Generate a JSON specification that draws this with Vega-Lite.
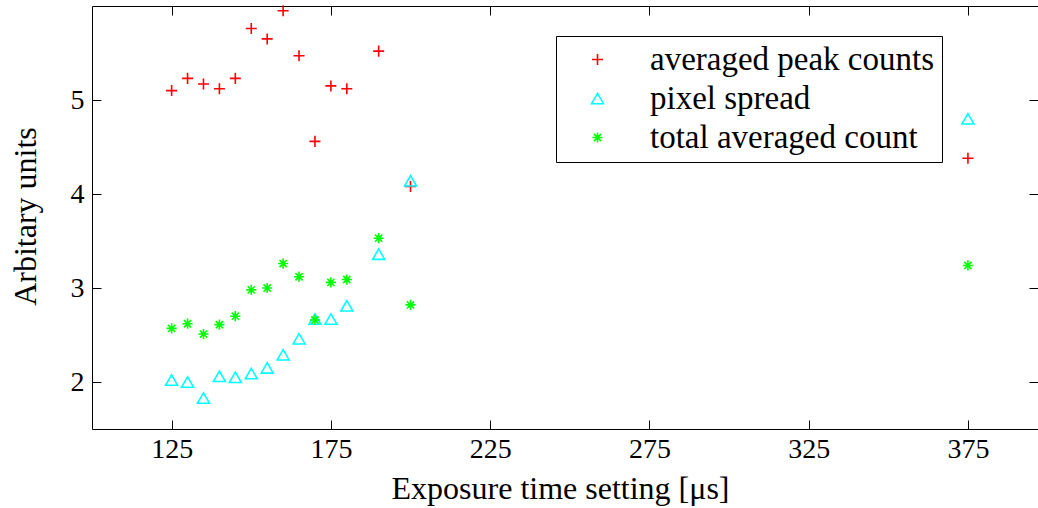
{
  "$schema": "https://vega.github.io/schema/vega-lite/v6.json",
  "autosize": {"type": "none"},
  "padding": {"left": 92, "top": 6, "right": 0, "bottom": 79},
  "width": 946,
  "height": 423,
  "background": "white",
  "config": {
    "view": {"stroke": null},
    "font": "Liberation Serif",
    "axis": {"labelFont": "Liberation Serif", "titleFont": "Liberation Serif", "labelColor": "black", "titleColor": "black", "domainColor": "black", "tickColor": "black", "grid": false, "titleFontWeight": "normal"}
  },
  "data": {"values": [
    {"t":125,"series":"averaged peak counts","v":5.10},
    {"t":130,"series":"averaged peak counts","v":5.23},
    {"t":135,"series":"averaged peak counts","v":5.17},
    {"t":140,"series":"averaged peak counts","v":5.12},
    {"t":145,"series":"averaged peak counts","v":5.23},
    {"t":150,"series":"averaged peak counts","v":5.76},
    {"t":155,"series":"averaged peak counts","v":5.65},
    {"t":160,"series":"averaged peak counts","v":5.95},
    {"t":165,"series":"averaged peak counts","v":5.47},
    {"t":170,"series":"averaged peak counts","v":4.56},
    {"t":175,"series":"averaged peak counts","v":5.15},
    {"t":180,"series":"averaged peak counts","v":5.12},
    {"t":190,"series":"averaged peak counts","v":5.52},
    {"t":200,"series":"averaged peak counts","v":4.08},
    {"t":375,"series":"averaged peak counts","v":4.38},
    {"t":125,"series":"pixel spread","v":2.02},
    {"t":130,"series":"pixel spread","v":2.00},
    {"t":135,"series":"pixel spread","v":1.83},
    {"t":140,"series":"pixel spread","v":2.06},
    {"t":145,"series":"pixel spread","v":2.05},
    {"t":150,"series":"pixel spread","v":2.09},
    {"t":155,"series":"pixel spread","v":2.15},
    {"t":160,"series":"pixel spread","v":2.29},
    {"t":165,"series":"pixel spread","v":2.46},
    {"t":170,"series":"pixel spread","v":2.67},
    {"t":175,"series":"pixel spread","v":2.67},
    {"t":180,"series":"pixel spread","v":2.81},
    {"t":190,"series":"pixel spread","v":3.36},
    {"t":200,"series":"pixel spread","v":4.14},
    {"t":375,"series":"pixel spread","v":4.80},
    {"t":125,"series":"total averaged count","v":2.57},
    {"t":130,"series":"total averaged count","v":2.62},
    {"t":135,"series":"total averaged count","v":2.51},
    {"t":140,"series":"total averaged count","v":2.61},
    {"t":145,"series":"total averaged count","v":2.70},
    {"t":150,"series":"total averaged count","v":2.98},
    {"t":155,"series":"total averaged count","v":3.00},
    {"t":160,"series":"total averaged count","v":3.26},
    {"t":165,"series":"total averaged count","v":3.12},
    {"t":170,"series":"total averaged count","v":2.66},
    {"t":175,"series":"total averaged count","v":3.06},
    {"t":180,"series":"total averaged count","v":3.09},
    {"t":190,"series":"total averaged count","v":3.53},
    {"t":200,"series":"total averaged count","v":2.82},
    {"t":375,"series":"total averaged count","v":3.24}
  ]},
  "layer": [
    {
      "mark": {"type": "point", "filled": false, "strokeWidth": 1.6, "size": 144, "opacity": 1},
      "encoding": {
        "x": {"field": "t", "type": "quantitative", "scale": {"domain": [100, 397], "nice": false, "zero": false},
              "axis": {"orient": "bottom", "values": [125,175,225,275,325,375], "tickSize": -9, "labelPadding": 37, "labelBaseline": "alphabetic", "labelFontSize": 28, "labelFlush": false, "title": "Exposure time setting [μs]", "titleFontSize": 32, "titleX": 468, "titleY": 69, "titleBaseline": "alphabetic", "titleAnchor": null, "titleAlign": "center"}},
        "y": {"field": "v", "type": "quantitative", "scale": {"domain": [1.5, 6], "nice": false, "zero": false},
              "axis": {"orient": "left", "values": [2,3,4,5], "tickSize": -9, "labelPadding": 17, "labelFontSize": 28, "labelFlush": false, "title": "Arbitary units", "titleFontSize": 32, "titleX": -67, "titleY": 210, "titleAngle": -90, "titleBaseline": "middle", "titleAlign": "center"}},
        "color": {"field": "series", "type": "nominal", "title": null,
                  "scale": {"domain": ["averaged peak counts","pixel spread","total averaged count"], "range": ["#ff0000","#00ffff","#00ff00"]},
                  "legend": {"orient": "none", "legendX": 464, "legendY": 30, "strokeColor": "black", "padding": 7, "symbolSize": 144, "symbolStrokeWidth": 1.6, "symbolOffset": 18, "labelOffset": 36, "labelFont": "Liberation Serif", "labelFontSize": 33, "labelLimit": 0, "labelColor": "black", "rowPadding": 5, "fillColor": "white", "cornerRadius": 0}},
        "shape": {"field": "series", "type": "nominal", "title": null,
                  "scale": {"domain": ["averaged peak counts","pixel spread","total averaged count"], "range": ["M-0.92,0L0.92,0M0,-0.92L0,0.92", "triangle-up", "M-0.85,0L0.85,0M0,-0.85L0,0.85M-0.6,-0.6L0.6,0.6M-0.6,0.6L0.6,-0.6"]}}
      }
    },
    {
      "mark": {"type": "point", "opacity": 0},
      "encoding": {
        "x": {"field": "t", "type": "quantitative", "scale": {"domain": [100, 397], "nice": false, "zero": false},
              "axis": {"orient": "top", "values": [125,175,225,275,325,375], "tickSize": -9, "labels": false, "title": null}},
        "y": {"field": "v", "type": "quantitative", "scale": {"domain": [1.5, 6], "nice": false, "zero": false},
              "axis": {"orient": "right", "values": [2,3,4,5], "tickSize": -9, "labels": false, "title": null, "domain": false}}
      }
    }
  ],
  "resolve": {"axis": {"x": "independent", "y": "independent"}}
}
